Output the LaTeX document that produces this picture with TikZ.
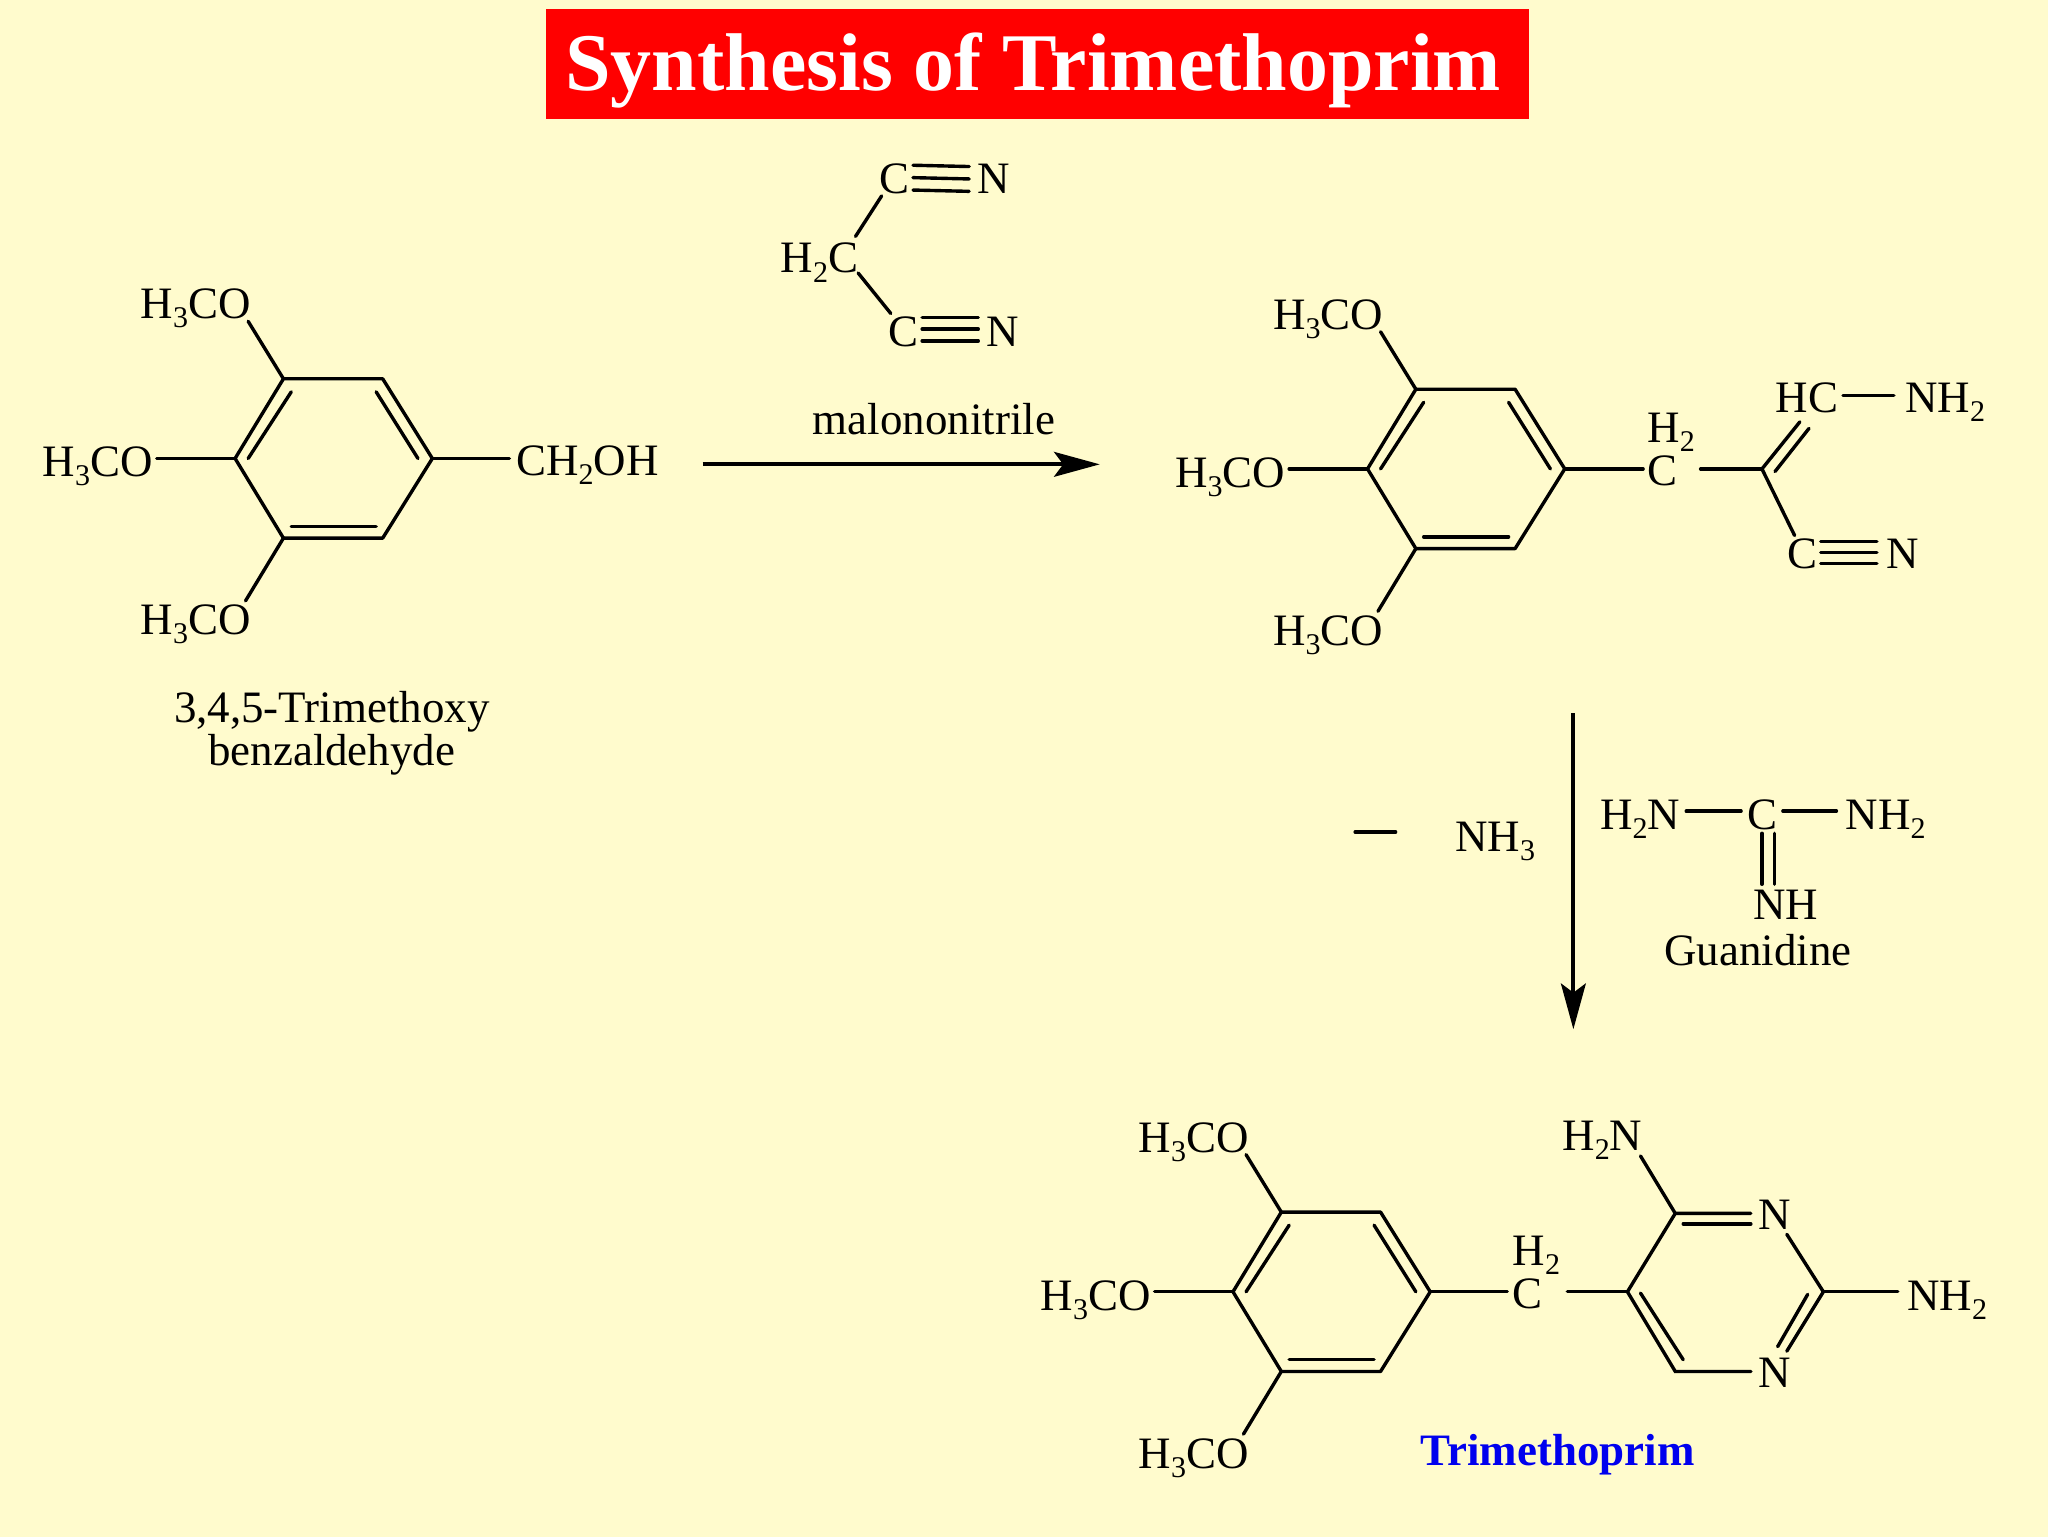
\documentclass[tikz,border=0pt]{standalone}
\usepackage{fontspec}
\setmainfont{Liberation Serif}
\usetikzlibrary{arrows.meta}
\definecolor{paper}{HTML}{FFFBCD}
\newcommand{\subs}[1]{\raisebox{-7pt}{\fontsize{23}{23}\selectfont #1}}
\tikzset{
  lbl/.style={inner sep=0pt,anchor=base west,font=\fontsize{34.4}{40}\selectfont,text=black},
  ctr/.style={inner sep=0pt,anchor=base,font=\fontsize{34.4}{40}\selectfont,text=black},
  bond/.style={draw=black,line width=2.6pt,line cap=round},
  rxn/.style={draw=black,line width=2.9pt,-{Stealth[length=35pt,width=19pt,inset=7pt]}}
}
% aromatic ring with three methoxy groups; #1,#2 = offset, #3 = name prefix
\newcommand{\ringmol}[3]{%
  \begin{scope}[shift={(#1,#2)}]
    \coordinate (#3l) at (180,351);
    \coordinate (#3tl) at (217,290);
    \coordinate (#3tr) at (293,290);
    \coordinate (#3r) at (331,351);
    \coordinate (#3br) at (293,412);
    \coordinate (#3bl) at (217,412);
    \coordinate (#3ia) at (190,351);
    \coordinate (#3ib) at (223,300);
    \coordinate (#3ic) at (288,300);
    \coordinate (#3id) at (320,351);
    \coordinate (#3ie) at (223,403);
    \coordinate (#3if) at (288,403);
    \coordinate (#3ot) at (190,246);
    \coordinate (#3om) at (120,351);
    \coordinate (#3ob) at (188,460);
    \node[lbl] (#3lt) at (107.5,244) {H\subs{3}CO};
    \node[lbl] (#3lm) at (32.5,365) {H\subs{3}CO};
    \node[lbl] (#3lb) at (107.5,486) {H\subs{3}CO};
    \draw[bond,line join=round] (#3l) -- (#3tl) -- (#3tr) -- (#3r) -- (#3br) -- (#3bl) -- cycle;
    \draw[bond] (#3ia) -- (#3ib);
    \draw[bond] (#3ic) -- (#3id);
    \draw[bond] (#3ie) -- (#3if);
    \draw[bond] (#3tl) -- (#3ot);
    \draw[bond] (#3l) -- (#3om);
    \draw[bond] (#3bl) -- (#3ob);
  \end{scope}}
\begin{document}
\begin{tikzpicture}[x=1pt,y=-1pt]
\useasboundingbox (0,0) rectangle (1568,1176);
\fill[paper] (-5,-5) rectangle (1573,1181);
% title
\node[fill=red,minimum width=753pt,minimum height=84pt,inner sep=0pt] (titlebox) at (794.5,49) {};
\node[inner sep=0pt,anchor=base,text=white,font=\fontsize{62.7}{70}\selectfont\bfseries] (title) at (791,69.5) {Synthesis of Trimethoprim};
% first compound
\ringmol{0}{0}{a}
\coordinate (ach) at (390,351);
\draw[bond] (ar) -- (ach);
\node[lbl] (ach2oh) at (395,364) {CH\subs{2}OH};
\node[ctr] (aname1) at (254,553) {3,4,5-Trimethoxy};
\node[ctr] (aname2) at (254,586) {benzaldehyde};
% malononitrile
\node[lbl] (mh2c) at (597.5,209) {H\subs{2}C};
\node[lbl] (mc1) at (673,148.5) {C};
\node[lbl] (mn1) at (748,148.5) {N};
\node[lbl] (mc2) at (680,265) {C};
\node[lbl] (mn2) at (755,265) {N};
\coordinate (mua) at (655,181); \coordinate (mub) at (675,150);
\coordinate (mda) at (657,209); \coordinate (mdb) at (682,240);
\draw[bond] (mua) -- (mub);
\draw[bond] (mda) -- (mdb);
\coordinate (t1a) at (699,126.5); \coordinate (t1b) at (742,127.5);
\coordinate (t2a) at (699,136); \coordinate (t2b) at (742,137);
\coordinate (t3a) at (699,145.5); \coordinate (t3b) at (742,146.5);
\draw[bond] (t1a) -- (t1b);
\draw[bond] (t2a) -- (t2b);
\draw[bond] (t3a) -- (t3b);
\coordinate (t4a) at (706,243); \coordinate (t4b) at (749,243);
\coordinate (t5a) at (706,252); \coordinate (t5b) at (749,252);
\coordinate (t6a) at (706,261); \coordinate (t6b) at (749,261);
\draw[bond] (t4a) -- (t4b);
\draw[bond] (t5a) -- (t5b);
\draw[bond] (t6a) -- (t6b);
\node[ctr] (mname) at (715,333) {malononitrile};
\coordinate (ar1a) at (538,355.5); \coordinate (ar1b) at (842,355.5);
\draw[rxn] (ar1a) -- (ar1b);
% second compound
\ringmol{867}{8}{b}
\node[lbl] (bh2) at (1261,338.5) {H\subs{2}};
\node[lbl] (bc) at (1261,372) {C};
\coordinate (bca) at (1258,359);
\coordinate (bcb) at (1302,359);
\coordinate (bv) at (1349,359);
\draw[bond] (br) -- (bca);
\draw[bond] (bcb) -- (bv);
\coordinate (bda) at (1378,323);
\coordinate (bdb) at (1359,361);
\coordinate (bdc) at (1385,328);
\draw[bond] (bv) -- (bda);
\draw[bond] (bdb) -- (bdc);
\node[lbl] (bhc) at (1359.5,316) {HC};
\node[lbl] (bnh2) at (1458.5,316) {NH\subs{2}};
\coordinate (bha) at (1411,303); \coordinate (bhb) at (1450,303);
\draw[bond] (bha) -- (bhb);
\coordinate (bdn) at (1374,410);
\draw[bond] (bv) -- (bdn);
\node[lbl] (bc2) at (1368,435) {C};
\node[lbl] (bn2) at (1444,435) {N};
\coordinate (b1a) at (1394,414.5); \coordinate (b1b) at (1437,414.5);
\coordinate (b2a) at (1394,423); \coordinate (b2b) at (1437,423);
\coordinate (b3a) at (1394,431.5); \coordinate (b3b) at (1437,431.5);
\draw[bond] (b1a) -- (b1b);
\draw[bond] (b2a) -- (b2b);
\draw[bond] (b3a) -- (b3b);
% second reaction arrow
\coordinate (ar2a) at (1204.6,546); \coordinate (ar2b) at (1204.6,788);
\draw[rxn] (ar2a) -- (ar2b);
\coordinate (mina) at (1037.5,637); \coordinate (minb) at (1068.5,637);
\draw[bond] (mina) -- (minb);
\node[lbl] (nh3) at (1114,652) {NH\subs{3}};
% guanidine
\node[lbl] (gl) at (1225,635) {H\subs{2}N};
\node[lbl] (gc) at (1338,635) {C};
\node[lbl] (gr) at (1413,635) {NH\subs{2}};
\node[lbl] (gn) at (1342,704) {NH};
\node[ctr] (gname) at (1346,739.5) {Guanidine};
\coordinate (g1a) at (1291,621); \coordinate (g1b) at (1333,621);
\coordinate (g2a) at (1365,621); \coordinate (g2b) at (1406,621);
\coordinate (g3a) at (1349,638); \coordinate (g3b) at (1349,677);
\coordinate (g4a) at (1358.6,638); \coordinate (g4b) at (1358.6,677);
\draw[bond] (g1a) -- (g1b);
\draw[bond] (g2a) -- (g2b);
\draw[bond] (g3a) -- (g3b);
\draw[bond] (g4a) -- (g4b);
% trimethoprim
\ringmol{764}{638}{c}
\node[lbl] (ch2) at (1158,969) {H\subs{2}};
\node[lbl] (cc) at (1158,1002) {C};
\coordinate (cca) at (1154,989); \coordinate (ccb) at (1200,989);
\coordinate (pl) at (1246,989);
\coordinate (ptl) at (1282.6,929);
\coordinate (pbl) at (1282.6,1050);
\coordinate (pr) at (1396,989);
\coordinate (pnt) at (1340.5,929);
\coordinate (pnb) at (1340.5,1050);
\coordinate (pit) at (1288.7,937);
\coordinate (pitb) at (1340.5,937);
\coordinate (pna) at (1368,945);
\coordinate (pnc) at (1368,1034.5);
\coordinate (pid) at (1384,991);
\coordinate (pie) at (1361,1031);
\coordinate (pif) at (1256,990);
\coordinate (pig) at (1288.7,1041);
\coordinate (ph2n) at (1256,885);
\coordinate (pnh2) at (1453,989);
\draw[bond] (cr) -- (cca);
\draw[bond] (ccb) -- (pl);
\draw[bond] (pl) -- (ptl) -- (pnt);
\draw[bond] (pit) -- (pitb);
\draw[bond] (pna) -- (pr) -- (pnc);
\draw[bond] (pid) -- (pie);
\draw[bond] (pl) -- (pbl) -- (pnb);
\draw[bond] (pif) -- (pig);
\draw[bond] (ph2n) -- (ptl);
\draw[bond] (pr) -- (pnh2);
\node[lbl] (ctn) at (1346.5,941.5) {N};
\node[lbl] (cbn) at (1346.5,1062.5) {N};
\node[lbl] (cnh2) at (1460,1003) {NH\subs{2}};
\node[lbl] (ch2n) at (1196,881) {H\subs{2}N};
\node[inner sep=0pt,anchor=base,font=\fontsize{34.4}{40}\selectfont\bfseries,text={rgb,255:red,0;green,0;blue,238}] (tname) at (1192.5,1122) {Trimethoprim};
\end{tikzpicture}
\end{document}
